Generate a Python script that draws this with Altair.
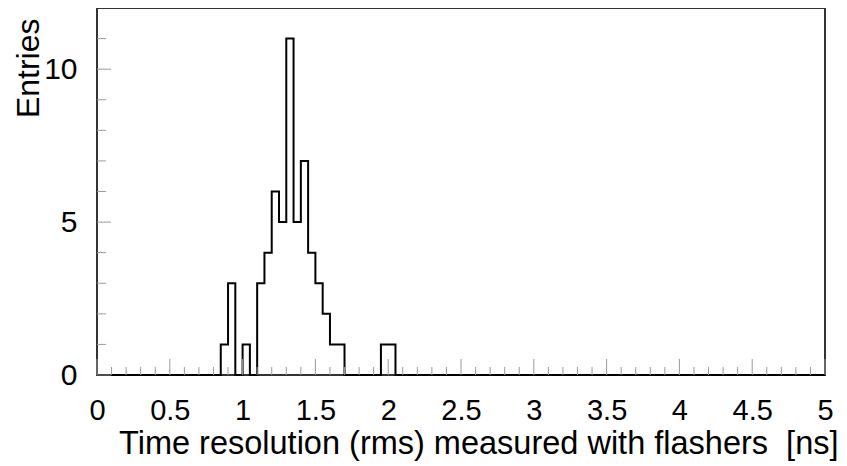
import altair as alt
import pandas as pd

# Histogram: bin left edges (width 0.05 ns) and entries
bin_edges = [0.80, 0.85, 0.90, 0.95, 1.00, 1.05, 1.10, 1.15, 1.20, 1.25, 1.30, 1.35,
             1.40, 1.45, 1.50, 1.55, 1.60, 1.65, 1.70, 1.75, 1.80, 1.85, 1.90, 1.95,
             2.00, 2.05]
counts = [0, 1, 3, 0, 1, 0, 3, 4, 6, 5, 11, 5,
          7, 4, 3, 2, 1, 1, 0, 0, 0, 0, 0, 1,
          1, 0]

x_labels = [0, 0.5, 1, 1.5, 2, 2.5, 3, 3.5, 4, 4.5, 5]
x_minor = [0.1, 0.2, 0.3, 0.4, 0.6, 0.7, 0.8, 0.9, 1.1, 1.2, 1.3, 1.4, 1.6, 1.7, 1.8, 1.9,
           2.1, 2.2, 2.3, 2.4, 2.6, 2.7, 2.8, 2.9, 3.1, 3.2, 3.3, 3.4, 3.6, 3.7, 3.8, 3.9,
           4.1, 4.2, 4.3, 4.4, 4.6, 4.7, 4.8, 4.9]
y_labels = [0, 5, 10]
y_minor = [1, 2, 3, 4, 6, 7, 8, 9, 11]

W, H = 728, 367
FONT = "Liberation Sans"

hist_df = pd.DataFrame({"x": [0.0] + bin_edges + [5.0], "n": [0] + counts + [0]})

xs = alt.Scale(domain=[0, 5], nice=False, zero=False)
ys = alt.Scale(domain=[0, 12], nice=False)

hist = alt.Chart(hist_df).mark_line(
    interpolate="step-after", color="black", strokeWidth=2
).encode(
    x=alt.X("x:Q", scale=xs, axis=alt.Axis(
        values=x_labels, format="~g", ticks=False, tickSize=0, domain=False, grid=False,
        labelFont=FONT, labelFontSize=29, labelColor="black", labelPadding=21,
        labelFlush=False, labelOverlap=False,
        title="Time resolution (rms) measured with flashers\u00a0\u00a0[ns]",
        titleFont=FONT, titleFontSize=32.5, titleFontWeight="normal", titleColor="black",
        titleAnchor="end", titleAlign="right", titleX=741, titleY=78,
        titleBaseline="alphabetic")),
    y=alt.Y("n:Q", scale=ys, axis=alt.Axis(
        values=y_labels, ticks=False, tickSize=0, domain=False, grid=False,
        labelFont=FONT, labelFontSize=30, labelColor="black", labelPadding=20,
        labelFlush=False, labelOverlap=False,
        title="Entries", titleFont=FONT, titleFontSize=32, titleFontWeight="normal",
        titleColor="black", titleAngle=-90, titleAlign="right", titleAnchor="end",
        titleX=-59, titleY=10, titleBaseline="alphabetic")),
)

tick_color = "#9a9a9a"

xmaj = alt.Chart(pd.DataFrame({"x": x_labels})).mark_rule(color=tick_color, strokeWidth=1).encode(
    x=alt.X("x:Q", scale=xs), y=alt.value(H), y2=alt.value(H - 16))
xmin = alt.Chart(pd.DataFrame({"x": x_minor})).mark_rule(color=tick_color, strokeWidth=1).encode(
    x=alt.X("x:Q", scale=xs), y=alt.value(H), y2=alt.value(H - 8))
ymaj = alt.Chart(pd.DataFrame({"n": y_labels})).mark_rule(color=tick_color, strokeWidth=1).encode(
    y=alt.Y("n:Q", scale=ys), x=alt.value(0), x2=alt.value(14))
ymin = alt.Chart(pd.DataFrame({"n": y_minor})).mark_rule(color=tick_color, strokeWidth=1).encode(
    y=alt.Y("n:Q", scale=ys), x=alt.value(0), x2=alt.value(9))

chart = alt.layer(hist, xmin, xmaj, ymin, ymaj).properties(
    width=W, height=H,
    autosize=alt.AutoSizeParams(type="none"),
    padding={"left": 89, "top": 0, "right": 14, "bottom": 89},
).configure(
    background="white",
    view=alt.ViewConfig(stroke="#333333", strokeWidth=2, fill="white"),
)

chart.save("out.html", embed_options={"renderer": "svg", "actions": False})
